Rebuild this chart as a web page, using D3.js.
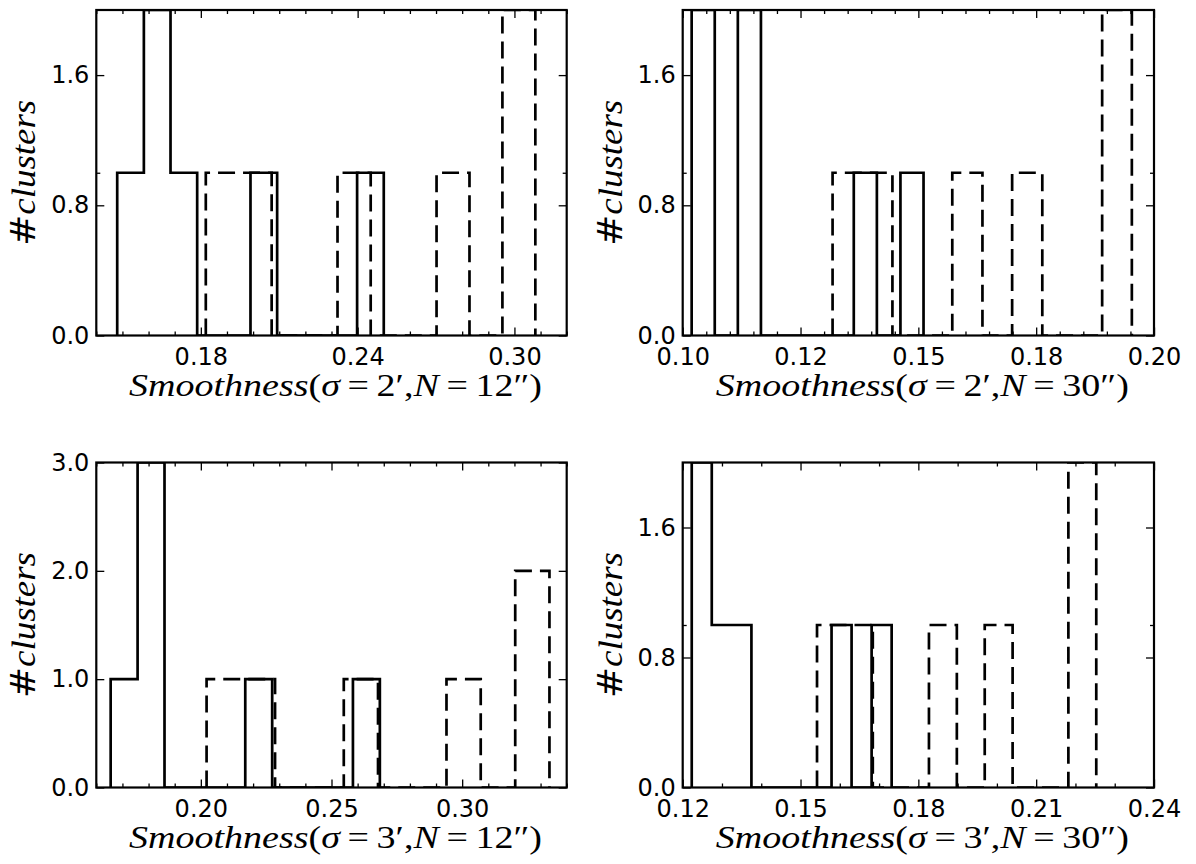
<!DOCTYPE html>
<html>
<head>
<meta charset="utf-8">
<script src="https://cdn.jsdelivr.net/npm/d3@7"></script>
<style>
  html, body { margin: 0; padding: 0; background: #fff; }
  svg { display: block; }
</style>
</head>
<body>
<svg id="chart" width="1196" height="864"></svg>
<script>
// ---------------- DATA ----------------
// Panel titles (x-axis labels)
const panelNames = ["σ=2′,N=12″", "σ=2′,N=30″", "σ=3′,N=12″", "σ=3′,N=30″"];

// x-axis ranges
const xDomains = [[0.14, 0.32], [0.10, 0.20], [0.16, 0.34], [0.12, 0.24]];
// y-axis ranges
const yDomains = [[0, 2], [0, 2], [0, 3], [0, 2]];

// major x ticks + labels
const xTicks = [
  [0.18, 0.24, 0.30],
  [0.100, 0.125, 0.150, 0.175, 0.200],
  [0.20, 0.25, 0.30],
  [0.12, 0.15, 0.18, 0.21, 0.24]
];
const xTickLabels = [
  ["0.18", "0.24", "0.30"],
  ["0.10", "0.12", "0.15", "0.18", "0.20"],
  ["0.20", "0.25", "0.30"],
  ["0.12", "0.15", "0.18", "0.21", "0.24"]
];
// minor x tick step
const xMinorStep = [0.01, 0.005, 0.01, 0.01];

// y ticks + labels
const yTicks = [[0, 0.8, 1.6], [0, 0.8, 1.6], [0, 1, 2, 3], [0, 0.8, 1.6]];
const yTickLabels = [
  ["0.0", "0.8", "1.6"],
  ["0.0", "0.8", "1.6"],
  ["0.0", "1.0", "2.0", "3.0"],
  ["0.0", "0.8", "1.6"]
];
const yMinorTicks = [[1], [1], [], [1]];

// Histogram (solid) : bin edges and counts
const solidEdges = [
  [0.1480, 0.1582, 0.1684, 0.1786, 0.1888, 0.1990, 0.2092, 0.2194, 0.2296, 0.2398, 0.2500],
  [0.1019, 0.1068, 0.1117, 0.1166, 0.1216, 0.1265, 0.1314, 0.1363, 0.1412, 0.1462, 0.1511],
  [0.1655, 0.1758, 0.1861, 0.1964, 0.2067, 0.2170, 0.2273, 0.2376, 0.2479, 0.2582, 0.2685],
  [0.1223, 0.1274, 0.1325, 0.1375, 0.1426, 0.1477, 0.1528, 0.1579, 0.1630, 0.1681, 0.1732]
];
const solidCounts = [
  [1, 2, 1, 0, 0, 1, 0, 0, 0, 1],
  [2, 0, 2, 0, 0, 0, 0, 1, 0, 1],
  [1, 3, 0, 0, 0, 1, 0, 0, 0, 1],
  [2, 1, 1, 0, 0, 0, 0, 1, 0, 1]
];

// Histogram (dashed) : bin edges and counts
const dashedEdges = [
  [0.1819, 0.1945, 0.2071, 0.2197, 0.2323, 0.2450, 0.2576, 0.2702, 0.2828, 0.2954, 0.3080],
  [0.1318, 0.1382, 0.1445, 0.1509, 0.1572, 0.1636, 0.1699, 0.1763, 0.1826, 0.1890, 0.1953],
  [0.2022, 0.2153, 0.2284, 0.2415, 0.2547, 0.2678, 0.2809, 0.2940, 0.3071, 0.3203, 0.3334],
  [0.1542, 0.1613, 0.1684, 0.1756, 0.1827, 0.1898, 0.1969, 0.2040, 0.2111, 0.2182, 0.2253]
];
const dashedCounts = [
  [1, 1, 0, 0, 1, 0, 0, 1, 0, 2],
  [1, 1, 0, 0, 1, 0, 1, 0, 0, 2],
  [1, 1, 0, 0, 1, 0, 0, 1, 0, 2],
  [1, 1, 0, 0, 1, 0, 1, 0, 0, 2]
];

// ---------------- LAYOUT ----------------
const boxes = [
  { l: 96.3,  r: 566.7, t: 10,    b: 335.5 },
  { l: 682.7, r: 1154,  t: 10,    b: 335.5 },
  { l: 96.3,  r: 566.7, t: 462.5, b: 787.5 },
  { l: 682.7, r: 1154,  t: 462.5, b: 787.5 }
];

const svg = d3.select("#chart");
const tickFont = "'DejaVu Sans', sans-serif";
const serif = "'Liberation Serif', 'Times New Roman', serif";

function stepPoints(edges, counts) {
  const pts = [[edges[0], 0]];
  counts.forEach((c, i) => {
    pts.push([edges[i], c]);
    pts.push([edges[i + 1], c]);
  });
  pts.push([edges[edges.length - 1], 0]);
  return pts;
}

function minorValues(dom, step) {
  const out = [];
  const n0 = Math.ceil(dom[0] / step - 1e-6), n1 = Math.floor(dom[1] / step + 1e-6);
  for (let k = n0; k <= n1; k++) out.push(+(k * step).toFixed(6));
  return out;
}

boxes.forEach((bx, p) => {
  const w = bx.r - bx.l, h = bx.b - bx.t;
  const g = svg.append("g").attr("transform", `translate(${bx.l},${bx.t})`);
  const x = d3.scaleLinear().domain(xDomains[p]).range([0, w]);
  const y = d3.scaleLinear().domain(yDomains[p]).range([h, 0]);

  const clipId = "clip" + p;
  g.append("clipPath").attr("id", clipId)
    .append("rect").attr("x", 0).attr("y", 0).attr("width", w).attr("height", h);

  const line = d3.line().x(d => x(d[0])).y(d => y(d[1]));

  const plot = g.append("g").attr("clip-path", `url(#${clipId})`);
  plot.append("path")
    .attr("d", line(stepPoints(solidEdges[p], solidCounts[p])))
    .attr("fill", "none").attr("stroke", "#000").attr("stroke-width", 2.7)
    .attr("stroke-linejoin", "miter");
  plot.append("path")
    .attr("d", line(stepPoints(dashedEdges[p], dashedCounts[p])))
    .attr("fill", "none").attr("stroke", "#000").attr("stroke-width", 2.7)
    .attr("stroke-dasharray", "17,8")
    .attr("stroke-linejoin", "miter");

  const minors = minorValues(xDomains[p], xMinorStep[p]).filter(v => !xTicks[p].some(t => Math.abs(t - v) < 1e-6));

  const styleAxis = sel => {
    sel.attr("font-size", null).attr("font-family", null);
    sel.select(".domain").remove();
    sel.selectAll(".tick line").attr("stroke", "#000").attr("stroke-width", 1.3);
    sel.selectAll(".tick text")
      .style("font-family", tickFont).style("font-size", "24px").attr("fill", "#000");
  };

  g.append("g").attr("transform", `translate(0,${h})`)
    .call(d3.axisBottom(x).tickValues(xTicks[p]).tickSize(-8).tickPadding(12)
      .tickFormat((d, i) => xTickLabels[p][i]))
    .call(styleAxis);
  g.append("g")
    .call(d3.axisTop(x).tickValues(xTicks[p]).tickSize(-8).tickFormat(""))
    .call(styleAxis);
  g.append("g").attr("transform", `translate(0,${h})`)
    .call(d3.axisBottom(x).tickValues(minors).tickSize(-4).tickFormat(""))
    .call(styleAxis);
  g.append("g")
    .call(d3.axisTop(x).tickValues(minors).tickSize(-4).tickFormat(""))
    .call(styleAxis);

  g.append("g")
    .call(d3.axisLeft(y).tickValues(yTicks[p]).tickSize(-8).tickPadding(7)
      .tickFormat((d, i) => yTickLabels[p][i]))
    .call(styleAxis);
  g.append("g").attr("transform", `translate(${w},0)`)
    .call(d3.axisRight(y).tickValues(yTicks[p]).tickSize(-8).tickFormat(""))
    .call(styleAxis);
  g.append("g")
    .call(d3.axisLeft(y).tickValues(yMinorTicks[p]).tickSize(-4).tickFormat(""))
    .call(styleAxis);
  g.append("g").attr("transform", `translate(${w},0)`)
    .call(d3.axisRight(y).tickValues(yMinorTicks[p]).tickSize(-4).tickFormat(""))
    .call(styleAxis);

  // frame
  g.append("rect").attr("x", 0).attr("y", 0).attr("width", w).attr("height", h)
    .attr("fill", "none").attr("stroke", "#000").attr("stroke-width", 2.2);

  // x label
  const parts = panelNames[p].match(/σ=(\d)′,N=(\d+)″/);
  const xl = g.append("text")
    .attr("x", w / 2 + 4).attr("y", h + 60)
    .attr("text-anchor", "middle")
    .style("font-family", serif).style("font-size", "31px").attr("fill", "#000");
  xl.append("tspan").attr("font-style", "italic").text("Smoothness");
  xl.append("tspan").text("(");
  xl.append("tspan").attr("font-style", "italic").text("σ");
  xl.append("tspan").text("\u2009=\u2009" + parts[1] + "′,");
  xl.append("tspan").attr("font-style", "italic").text("N");
  xl.append("tspan").text("\u2009=\u2009" + parts[2] + "″)");
  xl.attr("textLength", 413).attr("lengthAdjust", "spacingAndGlyphs");

  // y label
  const yl = g.append("text")
    .attr("transform", `translate(${-72},${h / 2}) rotate(-90)`)
    .attr("text-anchor", "middle").attr("dy", "0.33em")
    .style("font-size", "33px").attr("fill", "#000");
  yl.append("tspan").style("font-family", tickFont).text("#");
  yl.append("tspan").style("font-family", serif).attr("font-style", "italic").text("clusters");
  yl.attr("textLength", 146).attr("lengthAdjust", "spacingAndGlyphs");
});
</script>
</body>
</html>
